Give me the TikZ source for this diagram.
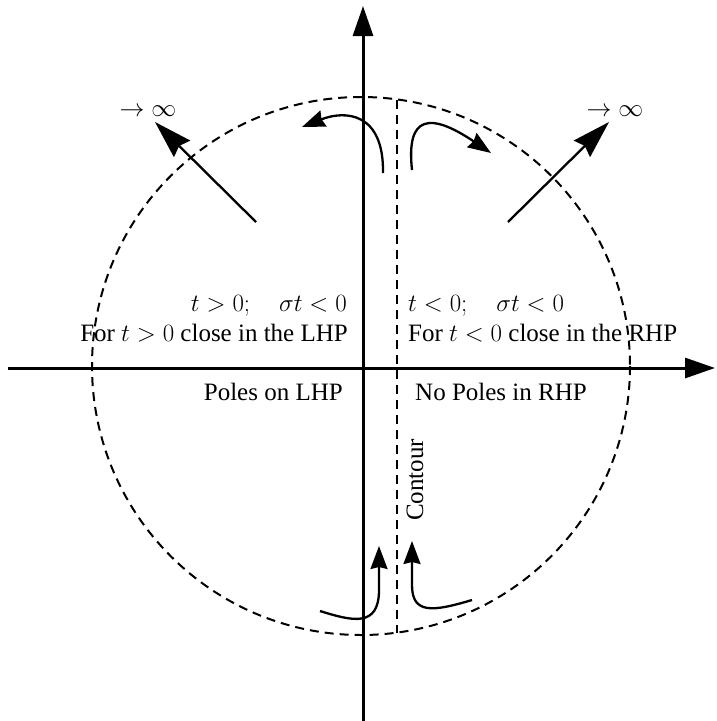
\documentclass[tikz,border=0pt]{standalone}
\usepackage{fontspec}
\setmainfont{Liberation Serif}
\usetikzlibrary{arrows.meta}
\begin{document}
\begin{tikzpicture}[x=1pt,y=-1pt,
  axis/.style={line width=3pt,-{Triangle[length=30pt,width=20pt]}},
  flow/.style={line width=2.3pt,-{Stealth[length=23pt,width=17pt,inset=2pt]}},
  bigflow/.style={line width=2.3pt,-{Stealth[length=38pt,width=23pt,inset=4pt]}},
  dashline/.style={line width=2pt,dash pattern=on 9pt off 6pt},
  lbl/.style={font=\fontsize{25}{30}\selectfont,inner sep=0pt},
  mlbl/.style={font=\fontsize{24.8}{30}\selectfont,inner sep=0pt},
  ilbl/.style={font=\fontsize{24}{28}\selectfont,inner sep=0pt}]
\useasboundingbox (0,0) rectangle (717,721);
% axes
\coordinate (xl) at (8,368);
\coordinate (xr) at (715,368);
\coordinate (yb) at (363,721);
\coordinate (yt) at (363,6);
\draw[axis] (xl) -- (xr);
\draw[axis] (yb) -- (yt);
% circle and contour
\coordinate (c0) at (361,366);
\draw[dashline] (c0) circle[radius=269];
\coordinate (ct) at (397,100);
\coordinate (cb) at (397,633);
\draw[dashline] (ct) -- (cb);
% diagonal arrows
\coordinate (la) at (256,222);
\coordinate (lb) at (155,122);
\coordinate (ra) at (508,222);
\coordinate (rb) at (609,122);
\draw[bigflow] (la) -- (lb);
\draw[bigflow] (ra) -- (rb);
\node[ilbl] (linf) at (148,111) {$\rightarrow\infty$};
\node[ilbl] (rinf) at (615,111) {$\rightarrow\infty$};
% curved arrows
\coordinate (t1a) at (383,173);
\coordinate (t1b) at (302,127);
\draw[flow] (t1a) .. controls (384,112) and (345,110) .. (t1b);
\coordinate (t2a) at (412,170);
\coordinate (t2b) at (491,153);
\draw[flow] (t2a) .. controls (406,115) and (430,112) .. (t2b);
\coordinate (b1a) at (320,611);
\coordinate (b1m) at (379,590);
\coordinate (b1b) at (379,546);
\draw[flow] (b1a) .. controls (352,621) and (379,628) .. (b1m) -- (b1b);
\coordinate (b2a) at (472,600);
\coordinate (b2m) at (412,585);
\coordinate (b2b) at (412,541);
\draw[flow] (b2a) .. controls (432,612) and (412,614) .. (b2m) -- (b2b);
% labels
\node[mlbl,anchor=base east] (c1) at (347,311) {$t>0;\quad \sigma t<0$};
\node[mlbl,anchor=base west] (c2) at (408,311) {$t<0;\quad \sigma t<0$};
\node[lbl,anchor=base east] (f1) at (348,341) {For $t>0$ close in the LHP};
\node[lbl,anchor=base west] (f2) at (408,341) {For $t<0$ close in the RHP};
\node[lbl,anchor=base east] (p1) at (343,400) {Poles on LHP};
\node[lbl,anchor=base west] (p2) at (415,400) {No Poles in RHP};
\node[lbl,rotate=90,anchor=base] (ctr) at (423,480) {Contour};
\end{tikzpicture}
\end{document}
